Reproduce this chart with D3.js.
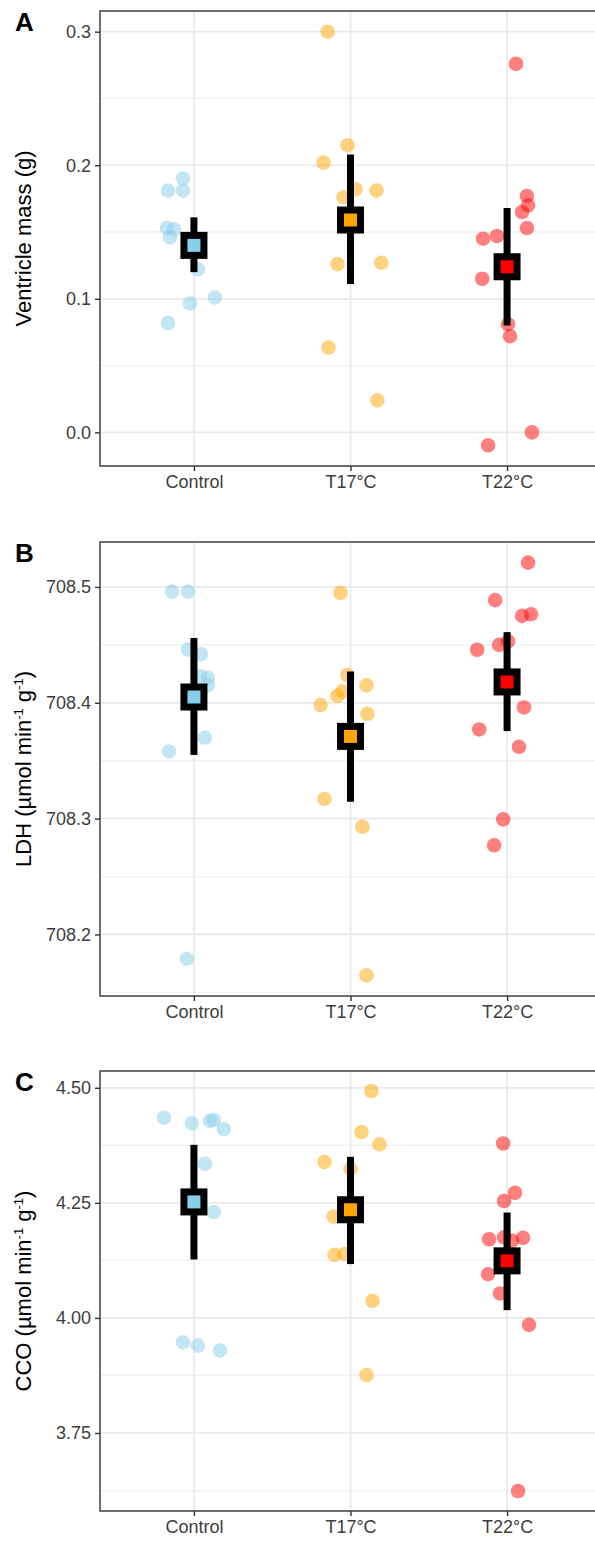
<!DOCTYPE html>
<html>
<head>
<meta charset="utf-8">
<script src="https://cdn.jsdelivr.net/npm/d3@7"></script>
<style>
  body { margin: 0; background: #fff; }
  svg { display: block; font-family: "Liberation Sans", Arial, sans-serif; }
</style>
</head>
<body>
<svg id="chart" width="595" height="1560"></svg>
<script>
/* Groups on the x axis. */
const categories = ["Control", "T17°C", "T22°C"]
const groupColors = ["#87CEEB", "#FFA500", "#FF0000"]

/* Panel A: ventricle mass (g). Jitter is in category units. */
const massValues = [
  [0.181, 0.181, 0.190, 0.153, 0.152, 0.146, 0.122, 0.101, 0.0965, 0.082],
  [0.300, 0.215, 0.202, 0.182, 0.176, 0.181, 0.126, 0.127, 0.0635, 0.024],
  [0.276, 0.177, 0.170, 0.165, 0.153, 0.145, 0.147, 0.115, 0.081, 0.072, -0.0097, 0.000]
]
const massJitter = [
  [-0.166, -0.070, -0.070, -0.172, -0.127, -0.153, 0.025, 0.134, -0.025, -0.166],
  [-0.146, -0.019, -0.172, 0.032, -0.045, 0.166, -0.083, 0.197, -0.140, 0.172],
  [0.057, 0.127, 0.134, 0.096, 0.127, -0.153, -0.064, -0.159, 0.006, 0.019, -0.121, 0.159]
]
const massMean = [0.140, 0.159, 0.124]
const massLow = [0.120, 0.111, 0.080]
const massHigh = [0.161, 0.208, 0.168]
const massTicks = [0.0, 0.1, 0.2, 0.3]
const massMinor = [0.05, 0.15, 0.25]

/* Panel B: LDH. */
const ldhValues = [
  [708.496, 708.496, 708.446, 708.442, 708.423, 708.4215, 708.415, 708.370, 708.358, 708.179],
  [708.495, 708.424, 708.415, 708.410, 708.406, 708.398, 708.3905, 708.317, 708.293, 708.1647],
  [708.521, 708.4886, 708.475, 708.4765, 708.4458, 708.450, 708.453, 708.396, 708.377, 708.362, 708.2994, 708.277]
]
const ldhJitter = [
  [-0.140, -0.038, -0.038, 0.045, 0.038, 0.089, 0.089, 0.070, -0.159, -0.045],
  [-0.064, -0.019, 0.102, -0.051, -0.083, -0.191, 0.108, -0.166, 0.076, 0.102],
  [0.134, -0.076, 0.096, 0.153, -0.191, -0.051, 0.006, 0.108, -0.178, 0.076, -0.025, -0.083]
]
const ldhMean = [708.405, 708.371, 708.418]
const ldhLow = [708.355, 708.3145, 708.3756]
const ldhHigh = [708.456, 708.427, 708.461]
const ldhTicks = [708.2, 708.3, 708.4, 708.5]
const ldhMinor = [708.15, 708.25, 708.35, 708.45]

/* Panel C: CCO. */
const ccoValues = [
  [4.435, 4.423, 4.428, 4.430, 4.410, 4.335, 4.230, 3.947, 3.940, 3.929],
  [4.493, 4.404, 4.377, 4.339, 4.324, 4.220, 4.137, 4.139, 4.037, 3.876],
  [4.379, 4.272, 4.254, 4.171, 4.175, 4.168, 4.174, 4.095, 4.053, 3.985, 3.624]
]
const ccoJitter = [
  [-0.191, -0.013, 0.102, 0.127, 0.191, 0.070, 0.127, -0.070, 0.025, 0.166],
  [0.134, 0.070, 0.185, -0.166, 0.000, -0.108, -0.102, -0.038, 0.140, 0.102],
  [-0.025, 0.051, -0.019, -0.115, -0.019, 0.032, 0.102, -0.121, -0.045, 0.140, 0.070]
]
const ccoMean = [4.252, 4.235, 4.124]
const ccoLow = [4.127, 4.117, 4.017]
const ccoHigh = [4.376, 4.350, 4.229]
const ccoTicks = [3.75, 4.00, 4.25, 4.50]
const ccoMinor = [3.625, 3.875, 4.125, 4.375]

/* Panel layout (pixel boxes). */
const left = 100
const right = 601
const panels = [
  { tag: "A", top: 11, bottom: 466, values: massValues, jitter: massJitter,
    mean: massMean, low: massLow, high: massHigh, ticks: massTicks, minor: massMinor,
    fmt: d3.format(".1f"), title: ["Ventricle mass (g)"] },
  { tag: "B", top: 542, bottom: 996, values: ldhValues, jitter: ldhJitter,
    mean: ldhMean, low: ldhLow, high: ldhHigh, ticks: ldhTicks, minor: ldhMinor,
    fmt: d3.format(".1f"), title: ["LDH (µmol min", "-1", " g", "-1", ")"] },
  { tag: "C", top: 1071, bottom: 1511, values: ccoValues, jitter: ccoJitter,
    mean: ccoMean, low: ccoLow, high: ccoHigh, ticks: ccoTicks, minor: ccoMinor,
    fmt: d3.format(".2f"), title: ["CCO (µmol min", "-1", " g", "-1", ")"] }
]

const svg = d3.select("#chart")

/* Shared x scale, ggplot style discrete padding. */
const xScale = d3.scalePoint()
  .domain(categories)
  .range([left, right])
  .padding(0.6)
const step = xScale.step()

panels.forEach(p => {
  /* y domain = data range plus 5% on each side. */
  const all = p.values.flat().concat(p.low, p.high)
  const [lo, hi] = d3.extent(all)
  const pad = (hi - lo) * 0.05
  const yScale = d3.scaleLinear()
    .domain([lo - pad, hi + pad])
    .range([p.bottom, p.top])

  const g = svg.append("g")

  /* Clip to panel. */
  const clipId = "clip" + p.tag
  svg.append("clipPath").attr("id", clipId)
    .append("rect")
    .attr("x", left).attr("y", p.top)
    .attr("width", right - left).attr("height", p.bottom - p.top)

  const inner = g.append("g").attr("clip-path", `url(#${clipId})`)

  /* Minor grid. */
  inner.append("g")
    .selectAll("line")
    .data(p.minor)
    .join("line")
    .attr("x1", left).attr("x2", right)
    .attr("y1", d => yScale(d)).attr("y2", d => yScale(d))
    .attr("stroke", "#f0f0f0")
    .attr("stroke-width", 1.3)

  /* Major grid, horizontal and vertical. */
  inner.append("g")
    .selectAll("line")
    .data(p.ticks)
    .join("line")
    .attr("x1", left).attr("x2", right)
    .attr("y1", d => yScale(d)).attr("y2", d => yScale(d))
    .attr("stroke", "#e9e9e9")
    .attr("stroke-width", 1.7)

  inner.append("g")
    .selectAll("line")
    .data(categories)
    .join("line")
    .attr("x1", d => xScale(d)).attr("x2", d => xScale(d))
    .attr("y1", p.top).attr("y2", p.bottom)
    .attr("stroke", "#e9e9e9")
    .attr("stroke-width", 1.7)

  /* Jittered raw points. */
  const pts = []
  p.values.forEach((vals, i) => {
    vals.forEach((v, j) => pts.push({ cat: categories[i], i: i, v: v, jit: p.jitter[i][j] }))
  })
  inner.append("g")
    .selectAll("circle")
    .data(pts)
    .join("circle")
    .attr("cx", d => xScale(d.cat) + d.jit * step)
    .attr("cy", d => yScale(d.v))
    .attr("r", 7.3)
    .attr("fill", d => groupColors[d.i])
    .attr("fill-opacity", 0.5)

  /* Error bars. */
  inner.append("g")
    .selectAll("line")
    .data(categories)
    .join("line")
    .attr("x1", d => xScale(d)).attr("x2", d => xScale(d))
    .attr("y1", (d, i) => yScale(p.low[i]))
    .attr("y2", (d, i) => yScale(p.high[i]))
    .attr("stroke", "#000")
    .attr("stroke-width", 7)

  /* Mean squares. */
  const sq = 20
  inner.append("g")
    .selectAll("rect")
    .data(categories)
    .join("rect")
    .attr("x", d => xScale(d) - sq / 2)
    .attr("y", (d, i) => yScale(p.mean[i]) - sq / 2)
    .attr("width", sq).attr("height", sq)
    .attr("fill", (d, i) => groupColors[i])
    .attr("stroke", "#000")
    .attr("stroke-width", 7)

  /* Panel border. */
  g.append("rect")
    .attr("x", left).attr("y", p.top)
    .attr("width", right - left).attr("height", p.bottom - p.top)
    .attr("fill", "none")
    .attr("stroke", "#333")
    .attr("stroke-width", 1.4)

  /* Y axis. */
  const yAxis = d3.axisLeft(yScale)
    .tickValues(p.ticks)
    .tickFormat(p.fmt)
    .tickSize(5)
    .tickPadding(4)
  const ya = g.append("g")
    .attr("transform", `translate(${left},0)`)
    .call(yAxis)
  ya.select(".domain").remove()
  ya.selectAll("line").attr("stroke", "#333").attr("stroke-width", 1.4)
  ya.selectAll("text")
    .attr("fill", "#3d3d3d")
    .style("font-size", "18px")
    .style("font-family", "'Liberation Sans', Arial, sans-serif")

  /* X axis. */
  const xAxis = d3.axisBottom(xScale)
    .tickSize(5)
    .tickPadding(4)
  const xa = g.append("g")
    .attr("transform", `translate(0,${p.bottom})`)
    .call(xAxis)
  xa.select(".domain").remove()
  xa.selectAll("line").attr("stroke", "#333").attr("stroke-width", 1.4)
  xa.selectAll("text")
    .attr("fill", "#3d3d3d")
    .style("font-size", "18px")
    .style("font-family", "'Liberation Sans', Arial, sans-serif")

  /* Y title, rotated, with superscripts. */
  const title = g.append("text")
    .attr("transform", `translate(31,${(p.top + p.bottom) / 2}) rotate(-90)`)
    .attr("text-anchor", "middle")
    .attr("fill", "#000")
    .style("font-size", "22px")
  p.title.forEach((part, k) => {
    const isSup = k % 2 === 1
    title.append("tspan")
      .text(part)
      .attr("dy", isSup ? -8 : (k > 0 ? 8 : 0))
      .style("font-size", isSup ? "13px" : "22px")
  })

  /* Panel tag. */
  g.append("text")
    .attr("x", 15)
    .attr("y", p.top + 20)
    .attr("font-weight", "bold")
    .style("font-size", "26px")
    .attr("fill", "#000")
    .text(p.tag)
})
</script>
</body>
</html>
